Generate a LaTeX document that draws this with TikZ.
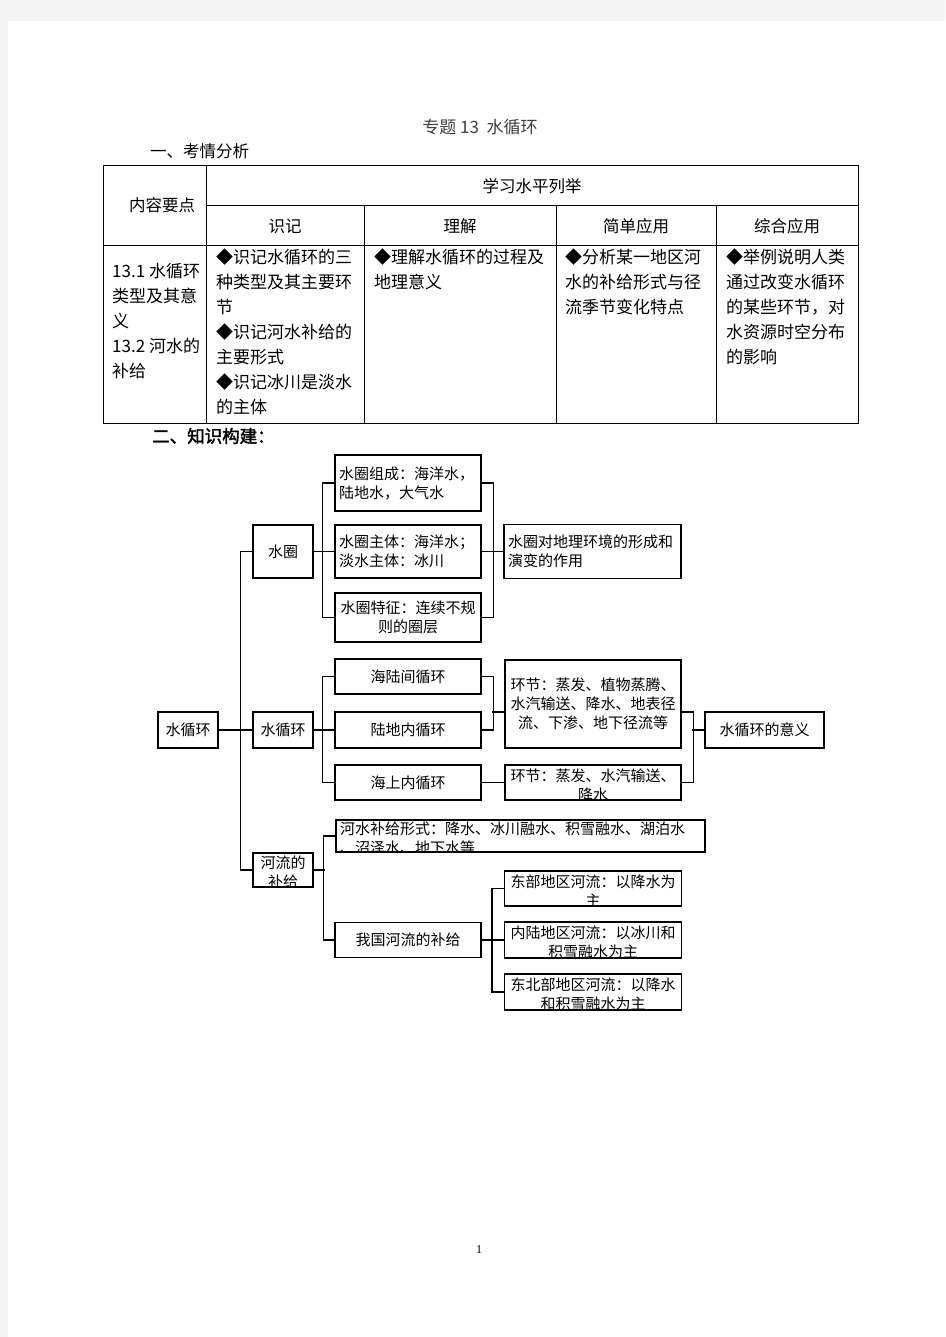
\documentclass[tikz,border=0pt]{standalone}
\usepackage{fontspec}
\setmainfont{Noto Sans CJK SC}[AutoFakeBold=2]
\newfontfamily\numfont{Liberation Serif}
\usepackage{tikz}
\usetikzlibrary{positioning}
\definecolor{pagegray}{HTML}{F4F4F4}

\begin{document}
\begin{tikzpicture}[x=1pt,y=-1pt]
\tikzstyle{box}=[draw,line width=1.1pt,inner sep=0pt,font=\fontsize{15}{19}\selectfont]
\tikzstyle{lbox}=[box,align=left,inner xsep=4pt]
\tikzstyle{cbox}=[box,align=center]
\tikzstyle{btxt}=[inner sep=0pt,font=\fontsize{15}{19}\selectfont,yshift=-2.5pt]
\tikzstyle{link}=[line width=1.1pt]
\tikzstyle{rule}=[line width=0.9pt]
\tikzstyle{cell}=[inner sep=0pt,align=left,anchor=north west,font=\fontsize{17}{25}\selectfont]
\tikzstyle{head}=[inner sep=0pt,font=\fontsize{16.5}{20}\selectfont]

\useasboundingbox (0,0) rectangle (945,1337);
\fill[pagegray] (0,0) rectangle (945,1337);
\fill[white] (8,21) rectangle (945,1337);

\node[font=\fontsize{17}{20}\selectfont,text=black!75] (title) at (480,127) {专题 13\ \ 水循环};
\node[font=\fontsize{16.5}{20}\selectfont,anchor=west,inner sep=0pt] (sec1) at (150,151) {一、考情分析};

% table
\draw[rule] (103,165) rectangle (858,423);
\draw[rule] (206,205) -- (858,205);
\draw[rule] (103,245) -- (858,245);
\draw[rule] (206,165) -- (206,423);
\foreach \x in {364,556,716}
    \draw[rule] (\x,205) -- (\x,423);

\node[head] (t0) at (162,205) {内容要点};
\node[head] (t1) at (532,186) {学习水平列举};
\node[head] (h1) at (285,226) {识记};
\node[head] (h2) at (460,226) {理解};
\node[head] (h3) at (636,226) {简单应用};
\node[head] (h4) at (787,226) {综合应用};

\node[cell] (b0) at (112,263.5) {13.1 水循环\\类型及其意\\义\\13.2 河水的\\补给};
\node[cell] (b1) at (216,248.5) {◆识记水循环的三\\种类型及其主要环\\节\\◆识记河水补给的\\主要形式\\◆识记冰川是淡水\\的主体};
\node[cell] (b2) at (374,248.5) {◆理解水循环的过程及\\地理意义};
\node[cell] (b3) at (565,248.5) {◆分析某一地区河\\水的补给形式与径\\流季节变化特点};
\node[cell] (b4) at (726,248.5) {◆举例说明人类\\通过改变水循环\\的某些环节，对\\水资源时空分布\\的影响};

\node[font=\fontsize{17.5}{20}\selectfont\bfseries,anchor=west,inner sep=0pt] (sec2) at (152,436) {二、知识构建：};

% diagram
\node[cbox,minimum width=60,minimum height=36] (sx) at (188,730) {水循环};
\node[cbox,minimum width=60,minimum height=53] (sq) at (283,551.5) {水圈};
\node[cbox,minimum width=60,minimum height=36] (xh) at (283,730) {水循环};
\node[box,minimum width=60,minimum height=34] (hl) at (283,870) {};

\node[lbox,minimum width=146,minimum height=56,text width=138] (c1) at (408,483) {水圈组成：海洋水，\\陆地水，大气水};
\node[lbox,minimum width=146,minimum height=53,text width=138] (c2) at (408,551.5) {水圈主体：海洋水；\\淡水主体：冰川};
\node[cbox,minimum width=146,minimum height=49] (c3) at (408,617.5) {水圈特征：连续不规\\则的圈层};
\node[lbox,minimum width=177,minimum height=54,text width=169] (yx) at (592.5,551.5) {水圈对地理环境的形成和\\演变的作用};

\node[cbox,minimum width=146,minimum height=35] (x1) at (408,676.5) {海陆间循环};
\node[cbox,minimum width=146,minimum height=36] (x2) at (408,730) {陆地内循环};
\node[cbox,minimum width=146,minimum height=35] (x3) at (408,782.5) {海上内循环};
\node[cbox,minimum width=176,minimum height=88] (hj1) at (593,704) {环节：蒸发、植物蒸腾、\\水汽输送、降水、地表径\\流、下渗、地下径流等};
\node[box,minimum width=176,minimum height=35] (hj2) at (593,782.5) {};
\node[cbox,minimum width=119,minimum height=36] (yy) at (764.5,730) {水循环的意义};

\node[box,minimum width=369,minimum height=32] (r1) at (520.5,836) {};
\node[cbox,minimum width=146,minimum height=35] (wg) at (408,940) {我国河流的补给};
\node[box,minimum width=177,minimum height=35] (w1) at (593,888.5) {};
\node[box,minimum width=177,minimum height=36] (w2) at (593,940) {};
\node[box,minimum width=177,minimum height=36] (w3) at (593,992) {};

\begin{scope}
\clip (hl.south west) rectangle (hl.north east);
\node[btxt,align=center] (hlt) at (hl) {河流的\\补给};
\end{scope}
\begin{scope}
\clip (hj2.south west) rectangle (hj2.north east);
\node[btxt,align=center] (hj2t) at (hj2) {环节：蒸发、水汽输送、\\降水};
\end{scope}
\begin{scope}
\clip (r1.south west) rectangle (r1.north east);
\node[btxt,align=left,text width=361] (r1t) at (r1) {河水补给形式：降水、冰川融水、积雪融水、湖泊水\\、沼泽水、地下水等};
\end{scope}
\begin{scope}
\clip (w1.south west) rectangle (w1.north east);
\node[btxt,align=center] (w1t) at (w1) {东部地区河流：以降水为\\主};
\end{scope}
\begin{scope}
\clip (w2.south west) rectangle (w2.north east);
\node[btxt,align=center] (w2t) at (w2) {内陆地区河流：以冰川和\\积雪融水为主};
\end{scope}
\begin{scope}
\clip (w3.south west) rectangle (w3.north east);
\node[btxt,align=center] (w3t) at (w3) {东北部地区河流：以降水\\和积雪融水为主};
\end{scope}

\draw[link] (sx.east) -- (xh.west);
\draw[link] (sq.west) -- ++(-12,0) |- (hl.west);

\draw[link] (sq.east) -- (c2.west);
\draw[link] (c1.west) -- ++(-12,0) |- (c3.west);
\draw[link] (c1.east) -- ++(12,0) |- (c3.east);
\draw[link] (c2.east) -- (yx.west);

\draw[link] (xh.east) -- (x2.west);
\draw[link] (x1.west) -- ++(-12,0) |- (x3.west);
\draw[link] (x1.east) -- ++(12,0) |- (x2.east);
\draw[link] ([yshift=-8pt]hj1.west) -- ++(-12,0);
\draw[link] (x3.east) -- (hj2.west);
\draw[link] ([yshift=-8pt]hj1.east) -- ++(12,0) |- (hj2.east);
\draw[link] (yy.west) -- ++(-12,0);

\draw[link] (hl.east) -- ++(11,0);
\draw[link] (r1.west) -- ++(-12,0) |- (wg.west);
\draw[link] (wg.east) -- (w2.west);
\draw[link] (w1.west) -- ++(-12,0) |- (w3.west);

\node[font=\numfont\fontsize{12}{14}\selectfont] (pg) at (479,1250) {1};
\end{tikzpicture}
\end{document}
